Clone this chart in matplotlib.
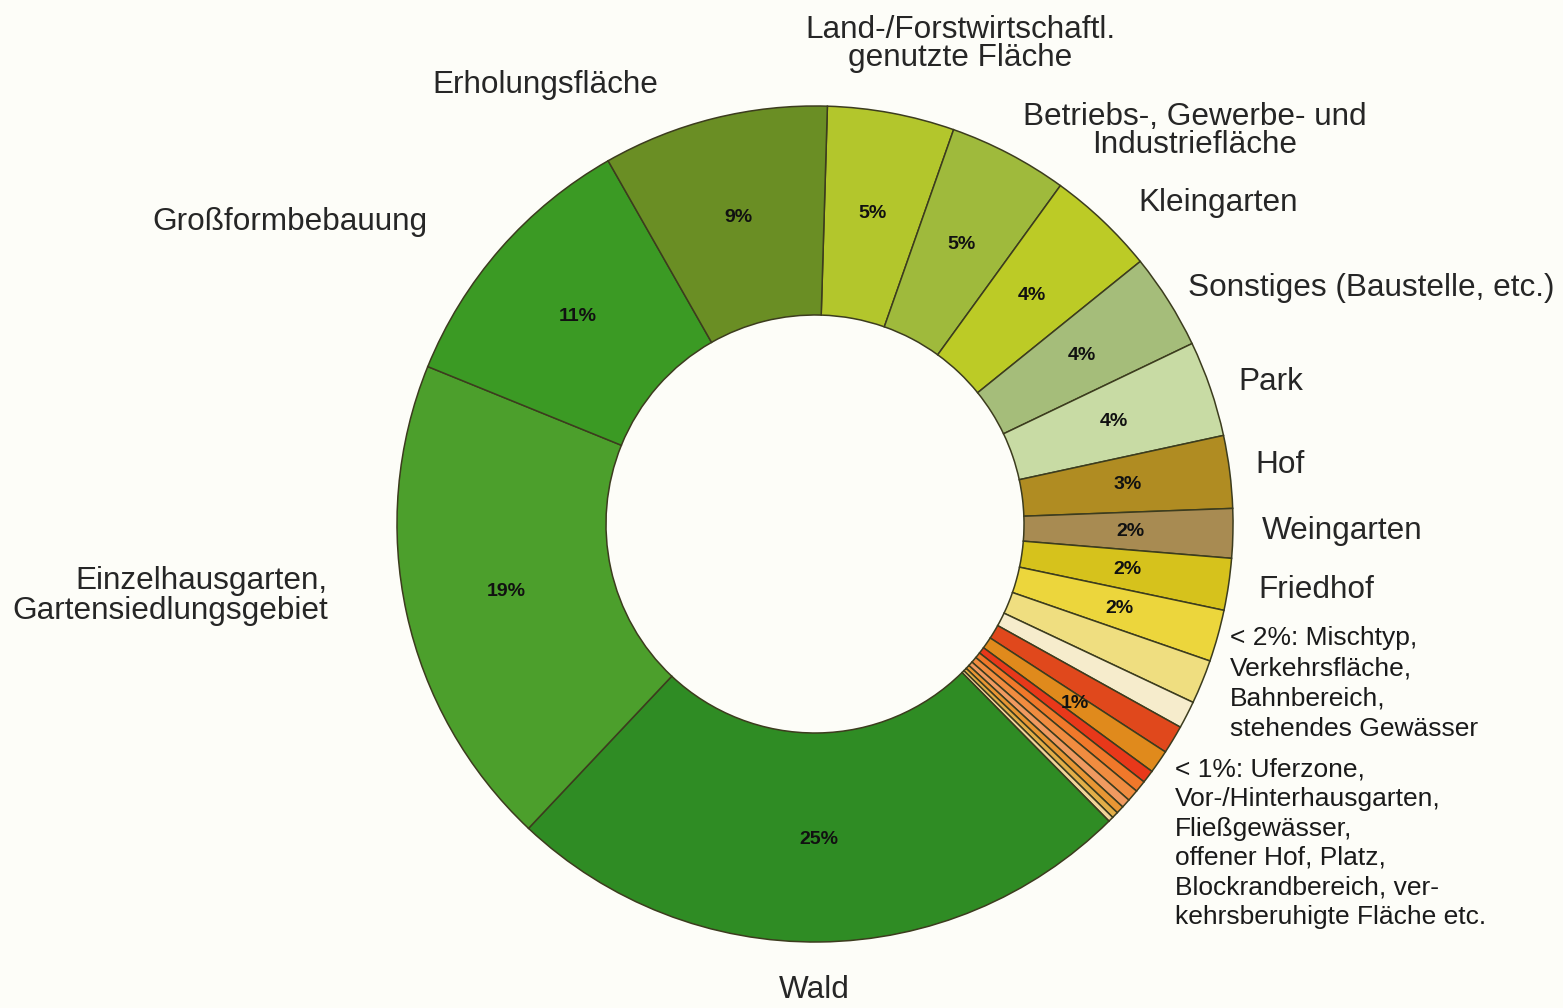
import numpy as np
import matplotlib.pyplot as plt

plt.rcParams['font.family'] = ['Liberation Sans', 'DejaVu Sans']

# slice shares in percent, clockwise from the top
values = [4.9, 4.6, 4.2, 3.7, 3.7, 2.8, 1.9, 2.0, 2.0, 1.7, 1.06, 1.1, 0.9, 0.5,
          0.45, 0.45, 0.35, 0.3, 0.25, 0.2,
          24.4, 19.1, 10.6, 8.7]
pct_labels = ['5%', '5%', '4%', '4%', '4%', '3%', '2%', '2%', '2%', '', '', '', '1%', '',
              '', '', '', '', '', '',
              '25%', '19%', '11%', '9%']
colors = ['#b3c62c', '#9fba3c', '#bccb26', '#a5bd7a', '#c8dba4', '#b08c22', '#a88b52',
          '#d6c21c', '#ecd63c', '#efde80', '#f6eccc', '#e0481c', '#e08a1c', '#e8381a',
          '#f0782a', '#f08c40', '#f09a60', '#e89634', '#e2ae48', '#f2d49a',
          '#2f8c24', '#4c9f2c', '#3b9a24', '#6a8e24']

cat_labels = ['Land-/Forstwirtschaftl.\ngenutzte Fläche', 'Erholungsfläche',
              'Betriebs-, Gewerbe- und\nIndustriefläche', 'Kleingarten',
              'Sonstiges (Baustelle, etc.)', 'Park', 'Hof', 'Weingarten', 'Friedhof',
              '< 2%: Mischtyp,\nVerkehrsfläche,\nBahnbereich,\nstehendes Gewässer',
              '< 1%: Uferzone,\nVor-/Hinterhausgarten,\nFließgewässer,\noffener Hof, Platz,\n'
              'Blockrandbereich, ver-\nkehrsberuhigte Fläche etc.',
              'Großformbebauung', 'Einzelhausgarten,\nGartensiedlungsgebiet', 'Wald']

W, H = 1563, 1008
fig = plt.figure(figsize=(W / 100, H / 100), dpi=100, facecolor='#fdfdf8')
ax = fig.add_axes([0, 0, 1, 1])
ax.set_facecolor('#fdfdf8')

cx, cy, R = 815, H - 524, 418
wedges, _ = ax.pie(values, colors=colors, startangle=88.3, counterclock=False,
                   center=(cx, cy), radius=R,
                   wedgeprops=dict(width=R * 0.5, edgecolor='#3c3c1e', linewidth=1.1))
ax.set_aspect('auto')
ax.set_xlim(0, W)
ax.set_ylim(0, H)
ax.axis('off')

# percentage labels at the middle of each ring segment
for w, lab in zip(wedges, pct_labels):
    if not lab:
        continue
    ang = np.deg2rad((w.theta1 + w.theta2) / 2)
    r = R * 0.755
    ax.text(cx + r * np.cos(ang), cy + r * np.sin(ang), lab, ha='center', va='center',
            fontsize=14, fontweight='bold', color='#111111')

tc = '#262626'
def lbl(x, y, s, ha='left', size=22.7, ls=1.0):
    ax.text(x, H - y, s, ha=ha, va='center', fontsize=size, color=tc,
            linespacing=ls, multialignment=ha if ha != 'center' else 'center')

lbl(960, 44, cat_labels[0], ha='center', ls=0.92)
lbl(545, 85, cat_labels[1], ha='center')
lbl(1195, 131, cat_labels[2], ha='center', ls=0.92)
lbl(1138, 203, cat_labels[3])
lbl(1188, 288, cat_labels[4])
lbl(1238, 382, cat_labels[5])
lbl(1255, 465, cat_labels[6])
lbl(1262, 531, cat_labels[7])
lbl(1258, 590, cat_labels[8])
ax.text(1230, H - 626, cat_labels[9], ha='left', va='top', fontsize=19, color='#1a1a1a',
        linespacing=1.33)
ax.text(1175, H - 758, cat_labels[10], ha='left', va='top', fontsize=19, color='#1a1a1a',
        linespacing=1.28)
lbl(290, 222, cat_labels[11], ha='center')
lbl(328, 596, cat_labels[12], ha='right', ls=1.0)
lbl(814, 990, cat_labels[13], ha='center')

fig.savefig('out.png', dpi=100, facecolor=fig.get_facecolor())
